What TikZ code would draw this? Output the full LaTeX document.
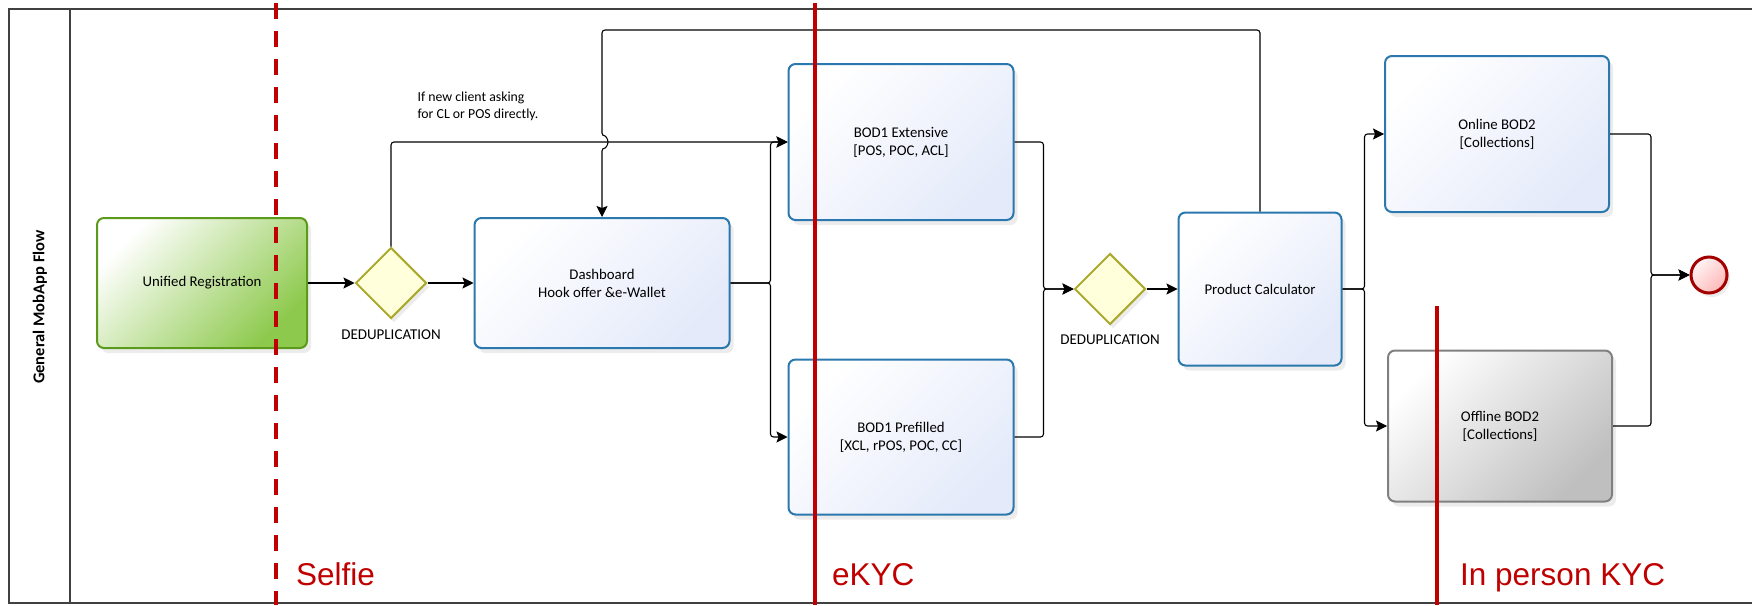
\documentclass[tikz,border=0pt]{standalone}
\usepackage{fontspec}
\setmainfont{Carlito}
\newfontfamily\kycfont{Liberation Sans}
\usetikzlibrary{shapes.geometric,arrows.meta,shadows}
\definecolor{taskblue}{HTML}{2A78AE}
\definecolor{tasklav}{HTML}{E4EAFA}
\definecolor{regborder}{HTML}{5C9A1C}
\definecolor{regfill}{HTML}{8DC94C}
\definecolor{gwborder}{HTML}{ABAA2F}
\definecolor{gwfill}{HTML}{FFFFDC}
\definecolor{kycred}{HTML}{C00000}
\definecolor{endred}{HTML}{A30000}
\definecolor{framegray}{HTML}{404040}
\tikzset{
  box/.style={rectangle, rounded corners=7pt, line width=2pt, align=center,
    font=\fontsize{14.8}{18}\selectfont, inner sep=2pt,
    drop shadow={shadow xshift=4pt, shadow yshift=-5pt, opacity=0.15}},
  task/.style={box, draw=taskblue, top color=white, bottom color=tasklav, shading angle=45},
  regtask/.style={box, draw=regborder, top color=white, bottom color=regfill, shading angle=45},
  manualtask/.style={box, draw=black!50, top color=white, bottom color=black!25, shading angle=45},
  gateway/.style={diamond, draw=gwborder, fill=gwfill, line width=2pt, inner sep=0pt,
    minimum width=71pt, minimum height=71pt,
    drop shadow={shadow xshift=3pt, shadow yshift=-4pt, opacity=0.15}},
  endevent/.style={circle, draw=endred, line width=3pt, inner sep=0pt, minimum size=36pt,
    top color=red!4, bottom color=red!28, shading angle=45,
    drop shadow={shadow xshift=3pt, shadow yshift=-4pt, opacity=0.15}},
  flow/.style={line width=1.1pt, rounded corners=3pt, -{Stealth[length=11pt,width=11pt,inset=2pt]}},
  note/.style={font=\fontsize{13.8}{17}\selectfont, align=left},
  gwlabel/.style={font=\fontsize{15}{15}\selectfont},
  kycline/.style={draw=kycred, line width=3.5pt},
  kyclabel/.style={text=kycred, font=\kycfont\fontsize{31.5}{31.5}\selectfont, inner sep=0pt}
}
\begin{document}
\begin{tikzpicture}[x=1pt,y=-1pt]
  \useasboundingbox (0,0) rectangle (1752,605);
  % pool
  \draw[framegray, line width=1.4pt] (1752,9) -- (9,9) -- (9,603) -- (1752,603);
  \draw[framegray, line width=1.2pt] (70,9) -- (70,603);
  \node[rotate=90, font=\bfseries\fontsize{16.5}{16.5}\selectfont] (pool) at (40,307) {General MobApp Flow};

  \node[regtask, minimum width=210pt, minimum height=130pt] (reg) at (202,283) {Unified Registration};
  \node[gateway] (gw1) at (391,283) {};
  \node[gwlabel] (dedup1) at (391,335) {DEDUPLICATION};
  \node[task, minimum width=255pt, minimum height=130pt] (dash) at (602,283) {Dashboard\\Hook offer \&e-Wallet};
  \node[task, minimum width=225pt, minimum height=156pt] (ext) at (901,142) {BOD1 Extensive\\{[}POS, POC, ACL{]}};
  \node[task, minimum width=225pt, minimum height=155pt] (pre) at (901,437) {BOD1 Prefilled\\{[}XCL, rPOS, POC, CC{]}};
  \node[gateway] (gw2) at (1110,289) {};
  \node[gwlabel] (dedup2) at (1110,340) {DEDUPLICATION};
  \node[task, minimum width=163pt, minimum height=153pt] (calc) at (1260,289) {Product Calculator};
  \node[task, minimum width=224pt, minimum height=156pt] (online) at (1497,134) {Online BOD2\\{[}Collections{]}};
  \node[manualtask, minimum width=224pt, minimum height=151pt] (offline) at (1500,426) {Offline BOD2\\{[}Collections{]}};
  \node[endevent] (end) at (1709,275) {};
  \node[note, anchor=west] (cond) at (414,106) {If new client asking\\for CL or POS directly.};

  % sequence flows
  \draw[flow] (reg.east) -- (gw1.west);
  \draw[flow] (gw1.east) -- (dash.west);
  \draw[flow] (gw1.north) |- (ext.west);
  \draw[flow] (calc.north) |- (dash.north |- 0,30) -- (dash.north |- 0,136)
    arc[start angle=-90, end angle=90, radius=6] -- (dash.north);
  \draw[flow] (dash.east) -- ++(40,0) |- (ext.west);
  \draw[flow] (dash.east) -- ++(40,0) |- (pre.west);
  \draw[flow] (ext.east) -- ++(29,0) |- (gw2.west);
  \draw[flow] (pre.east) -- ++(29,0) |- (gw2.west);
  \draw[flow] (gw2.east) -- (calc.west);
  \draw[flow] (calc.east) -- ++(22,0) |- (online.west);
  \draw[flow] (calc.east) -- ++(22,0) |- (offline.west);
  \draw[flow] (online.east) -- ++(41,0) |- (end.west);
  \draw[flow] (offline.east) -- ++(38,0) |- (end.west);

  % KYC stages
  \draw[kycline, dash pattern=on 16pt off 12pt] (276,3) -- (276,605);
  \draw[kycline] (815,3) -- (815,605);
  \draw[kycline] (1437,306) -- (1437,605);
  \node[kyclabel, anchor=base west] (selfie) at (296,585) {Selfie};
  \node[kyclabel, anchor=base west] (ekyc) at (832,585) {eKYC};
  \node[kyclabel, anchor=base west] (inperson) at (1460,585) {In person KYC};
\end{tikzpicture}
\end{document}
